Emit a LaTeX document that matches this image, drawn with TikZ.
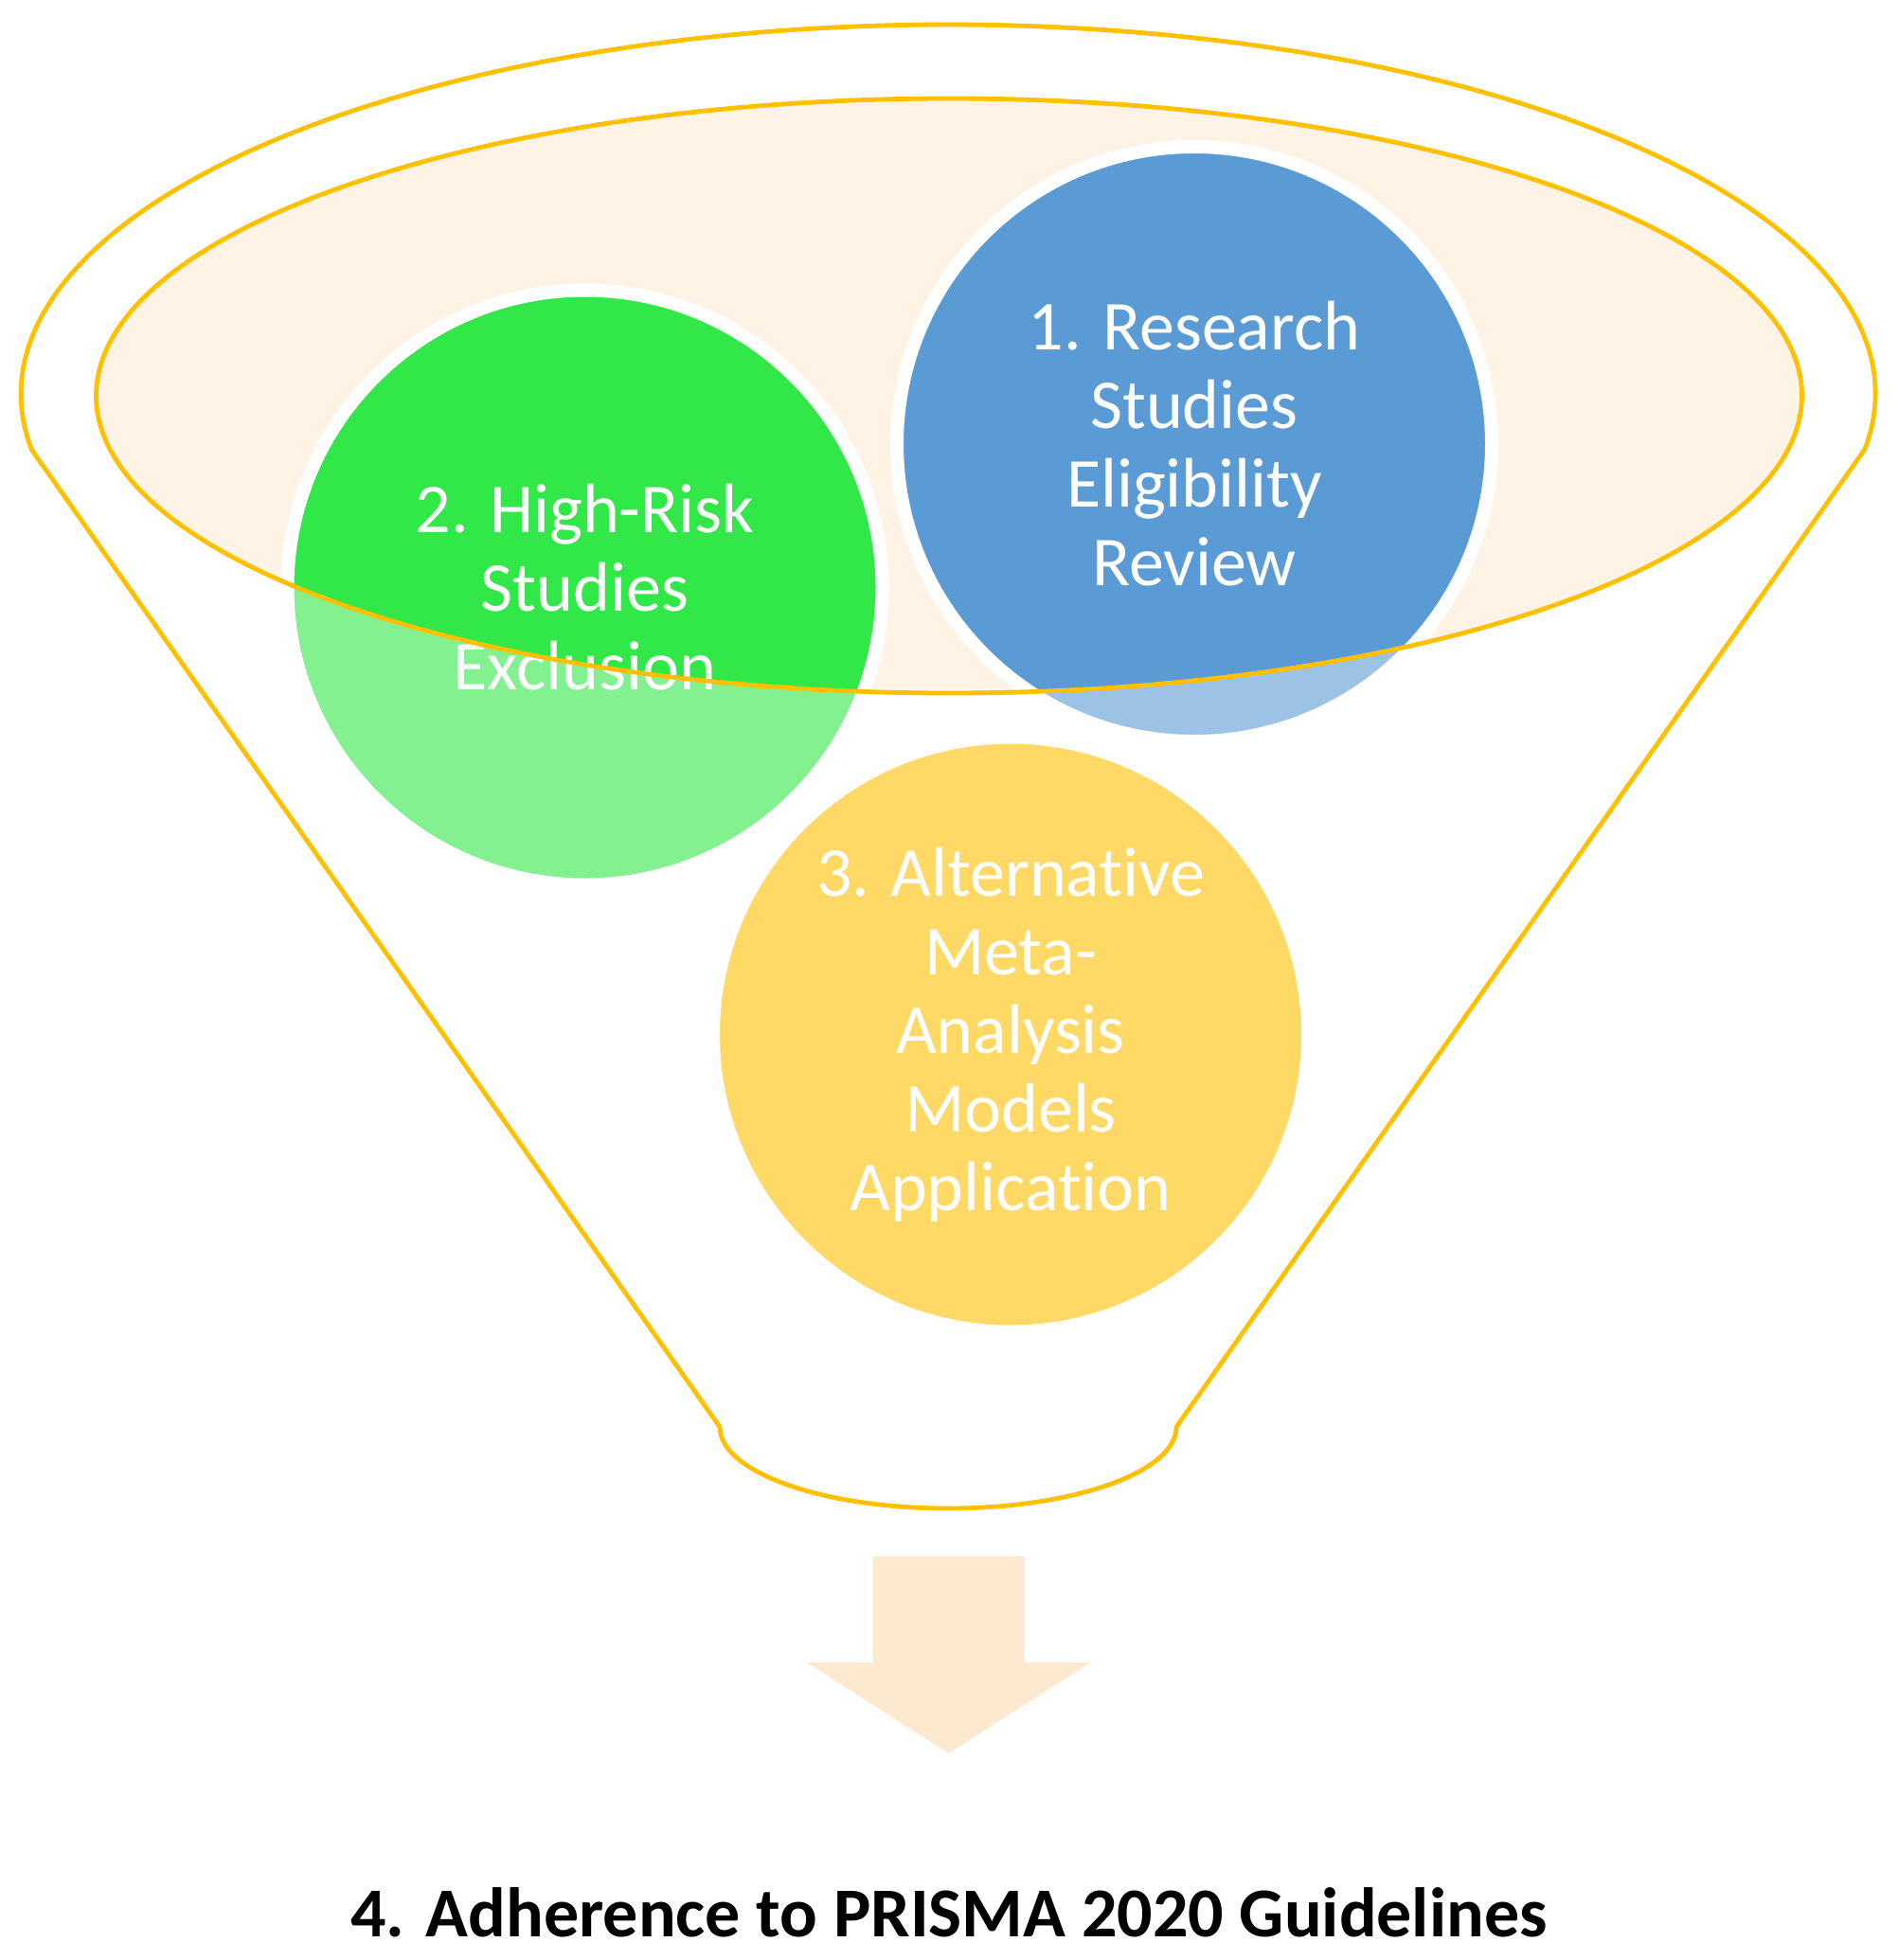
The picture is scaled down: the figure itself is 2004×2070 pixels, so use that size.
\documentclass[tikz,border=0pt]{standalone}
\usepackage{fontspec}
\setmainfont{Carlito}[Ligatures=NoCommon]
\definecolor{gold}{RGB}{255,192,0}
\definecolor{peach}{RGB}{254,243,228}
\definecolor{arrowc}{RGB}{253,233,208}
\definecolor{blueC}{RGB}{91,155,213}
\definecolor{greenC}{RGB}{50,232,72}
\tikzset{
  bubble/.style={circle, draw=white, line width=14pt, minimum size=628pt,
    inner sep=0pt, outer sep=0pt, text=white, align=center,
    font=\fontsize{74}{83}\selectfont},
  funnelline/.style={draw=gold, line width=4.8pt, line join=round},
}
\begin{document}
\begin{tikzpicture}[x=1pt,y=-1pt]
\useasboundingbox (0,0) rectangle (2004,2070);
% funnel mouth (peach)
\fill[peach] (1002,418) ellipse [x radius=900.5, y radius=314];
% circles
\node[bubble, fill=blueC]  (s1) at (1261,469)    {1. Research\\Studies\\Eligibility\\Review};
\node[bubble, fill=greenC] (s2) at (617.5,620.5) {2. High-Risk\\Studies\\Exclusion};
\node[bubble, fill=gold]   (s3) at (1067,1092.5) {3. Alternative\\Meta-\\Analysis\\Models\\Application};
% translucent funnel body
\fill[white, opacity=0.4, even odd rule] (0,0) rectangle (2004,2070)
  (1002,418) ellipse [x radius=900.5, y radius=314];
% outlines
\draw[funnelline] (1002,418) ellipse [x radius=900.5, y radius=314];
\draw[funnelline] (33.1,474.5) -- (760,1507)
  arc[start angle=180, end angle=0, x radius=241, y radius=86]
  -- (1968.9,474.5)
  arc[start angle=8.63, end angle=-188.63, x radius=979, y radius=390]
  -- cycle;
% arrow
\fill[arrowc] (921.5,1643.6) -- (1081.5,1643.6) -- (1081.5,1755.6) -- (1151.5,1755.6)
  -- (1001.5,1851.7) -- (851.5,1755.6) -- (921.5,1755.6) -- cycle;
% result
\node[anchor=base, inner sep=0pt, font=\fontsize{74}{83}\selectfont\bfseries] (s4)
  at (1002,2045) {4. Adherence to PRISMA 2020 Guidelines};
\end{tikzpicture}
\end{document}
